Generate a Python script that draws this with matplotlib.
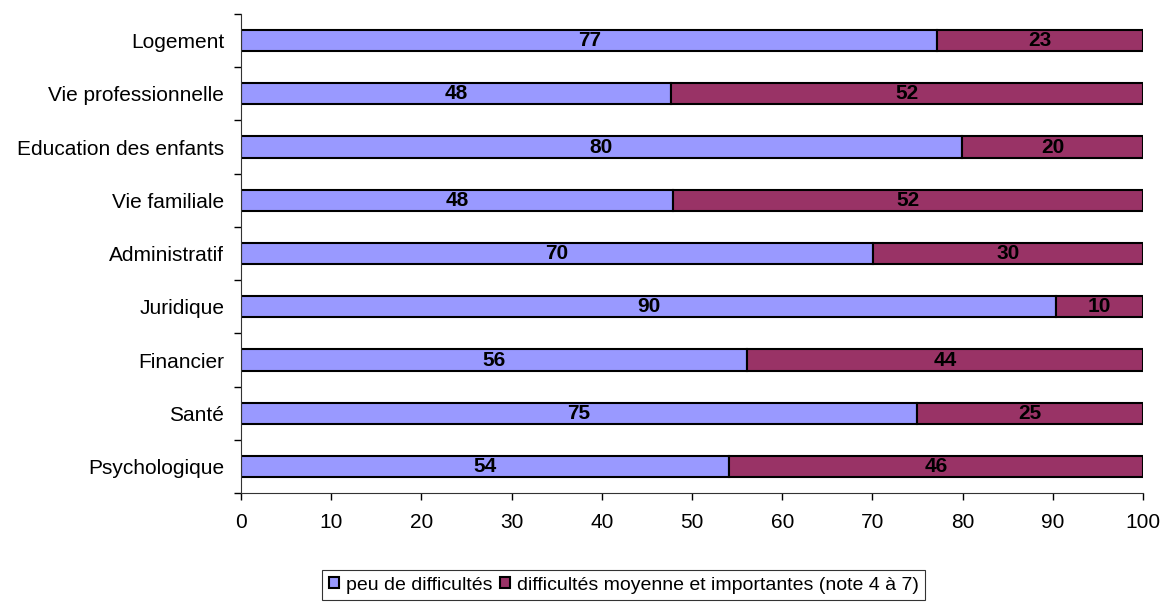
import numpy as np
import matplotlib.pyplot as plt

plt.rcParams['font.family'] = ['Liberation Sans', 'DejaVu Sans']

# categories, bottom to top
categories = ['Psychologique', 'Santé', 'Financier', 'Juridique', 'Administratif',
              'Vie familiale', 'Education des enfants', 'Vie professionnelle', 'Logement']
peu = [54.1, 74.9, 56.1, 90.4, 70.1, 47.9, 79.9, 47.7, 77.2]
moyen = [45.9, 25.1, 43.9, 9.6, 29.9, 52.1, 20.1, 52.3, 22.8]
series_names = ['peu de difficultés', 'difficultés moyenne et importantes (note 4 à 7)']
colors = ['#9999FF', '#993366']

fig = plt.figure(figsize=(11.64, 6.08), dpi=100)
ax = fig.add_axes([0.207, 0.189, 0.775, 0.788])

y = np.arange(len(categories))
b1 = ax.barh(y, peu, height=0.4, color=colors[0], edgecolor='black', linewidth=1.5,
             label=series_names[0])
b2 = ax.barh(y, moyen, left=peu, height=0.4, color=colors[1], edgecolor='black',
             linewidth=1.5, label=series_names[1])

for bars, vals in ((b1, peu), (b2, moyen)):
    ax.bar_label(bars, labels=[f'{round(v):d}' for v in vals], label_type='center',
                 fontsize=15, fontweight='bold', color='black')

ax.set_xlim(0, 100)
ax.set_ylim(-0.5, len(categories) - 0.5)
ax.set_xticks(np.arange(0, 101, 10))
ax.set_yticks(y)
ax.set_yticklabels(categories)
ax.set_yticks(np.arange(-0.5, len(categories), 1), minor=True)
ax.tick_params(axis='y', which='major', length=0, pad=12, labelsize=15)
ax.tick_params(axis='y', which='minor', length=5, width=1)
ax.tick_params(axis='x', length=5, width=1, labelsize=15, pad=9)

for s in ('top', 'right'):
    ax.spines[s].set_visible(False)
ax.spines['left'].set_color('#333333')
ax.spines['bottom'].set_color('#333333')

leg = fig.legend(loc='upper center', bbox_to_anchor=(0.536, 0.063), ncol=2, fontsize=14,
                 frameon=True, fancybox=False, edgecolor='black', handlelength=0.5,
                 handleheight=0.5, handletextpad=0.35, columnspacing=0.4,
                 borderpad=0.35, borderaxespad=0)
leg.get_frame().set_linewidth(0.8)

fig.savefig('out.png', dpi=100)
